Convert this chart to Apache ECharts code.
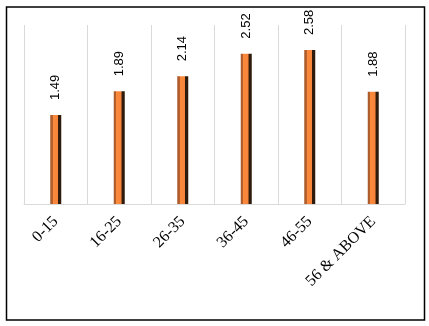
<!DOCTYPE html>
<html>
<head>
<meta charset="utf-8">
<script src="https://cdn.jsdelivr.net/npm/echarts@6/dist/echarts.min.js"></script>
<style>
  html, body { margin: 0; padding: 0; background: #fff; }
  #chart { width: 429px; height: 326px; }
</style>
</head>
<body>
<div id="chart"></div>
<script>
// age groups and their values
const categories = ['0-15', '16-25', '26-35', '36-45', '46-55', '56 & ABOVE']
const values = [1.49, 1.89, 2.14, 2.52, 2.58, 1.88]

const chart = echarts.init(document.getElementById('chart'))

// orange bar with a brown left face and dark right edge
const barColor = {
  type: 'linear', x: 0, y: 0, x2: 1, y2: 0,
  colorStops: [
    { offset: 0, color: '#a9592a' },
    { offset: 0.24, color: '#b8622e' },
    { offset: 0.25, color: '#fb8a3c' },
    { offset: 0.7, color: '#f7843a' },
    { offset: 0.71, color: '#2e1b0c' },
    { offset: 1, color: '#2e1b0c' }
  ]
}

const option = {
  animation: false,
  grid: { left: 24, right: 24, top: 25, bottom: 122 },
  xAxis: {
    type: 'category',
    data: categories,
    axisLine: { lineStyle: { color: '#d9d9d9', width: 1 } },
    axisTick: { show: false },
    splitLine: { show: true, lineStyle: { color: '#d9d9d9', width: 1 } },
    axisLabel: {
      rotate: 45,
      interval: 0,
      margin: 15,
      color: '#000',
      fontFamily: 'Liberation Serif',
      fontSize: 16
    }
  },
  yAxis: {
    type: 'value',
    min: 0,
    max: 3,
    show: false,
    splitLine: { show: false }
  },
  series: [
    {
      type: 'bar',
      data: values,
      barWidth: 11,
      itemStyle: { color: barColor },
      label: {
        show: true,
        position: 'top',
        rotate: 90,
        align: 'left',
        verticalAlign: 'middle',
        distance: 15,
        color: '#000',
        fontFamily: 'Liberation Sans',
        fontSize: 13
      }
    }
  ],
  graphic: [
    {
      type: 'rect',
      shape: { x: 6.5, y: 7, width: 418, height: 313 },
      style: { fill: 'none', stroke: '#000', lineWidth: 1.5 },
      silent: true
    }
  ]
}

chart.setOption(option)
</script>
</body>
</html>
